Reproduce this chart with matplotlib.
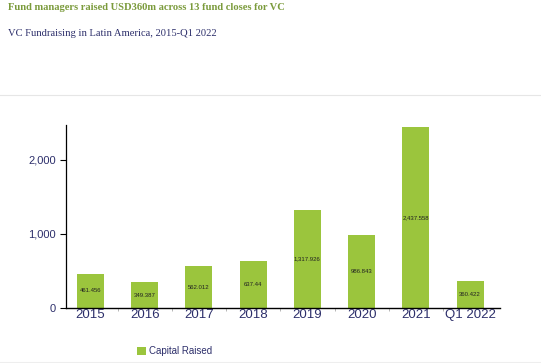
import matplotlib
matplotlib.use('Agg')
import matplotlib.pyplot as plt

categories = ['2015', '2016', '2017', '2018', '2019', '2020', '2021', 'Q1 2022']
capital_raised = [461.456, 349.387, 562.012, 637.44, 1317.926, 986.843, 2437.558, 360.422]
value_labels = ['461.456', '349.387', '562.012', '637.44', '1,317.926', '986.843', '2,437.558', '360.422']

green = '#9bc53d'
navy = '#2d2f6b'

fig = plt.figure(figsize=(5.41, 3.63), dpi=100)
fig.text(8/541, 1 - 8/363, 'Fund managers raised USD360m across 13 fund closes for VC',
         family='Liberation Serif', fontweight='bold', fontsize=7.6, color='#7b9b3c', va='center')
fig.text(8/541, 1 - 34/363, 'VC Fundraising in Latin America, 2015-Q1 2022',
         family='Liberation Serif', fontsize=7.6, color=navy, va='center')
fig.add_artist(plt.Line2D([0, 1], [1 - 95/363] * 2, color='#e6e6e6', lw=0.8))
fig.add_artist(plt.Line2D([0, 1], [1 - 362/363] * 2, color='#eeeeee', lw=0.8))

ax = fig.add_axes([66/541, 1 - 308/363, (500 - 66)/541, (308 - 125)/363])
x = range(len(categories))
bars = ax.bar(x, capital_raised, width=0.5, color=green, label='Capital Raised')
for xi, v, lab in zip(x, capital_raised, value_labels):
    ax.text(xi, v / 2, lab, ha='center', va='center', fontsize=4.3, color='#222222',
            family='Liberation Sans')

ax.set_xlim(-0.45, 7.55)
ax.set_ylim(0, 2470)
ax.set_yticks([0, 1000, 2000])
ax.set_yticklabels(['0', '1,000', '2,000'])
ax.set_xticks(list(x))
ax.set_xticklabels(categories)
ax.set_xticks([i + 0.5 for i in range(7)], minor=True)
ax.tick_params(axis='x', which='major', length=0, labelsize=9.5, labelcolor=navy, pad=1)
ax.tick_params(axis='x', which='minor', length=2, width=0.6, color='#aaaaaa')
ax.tick_params(axis='y', length=4, width=0.8, labelsize=8, labelcolor=navy)
for lab in ax.get_xticklabels() + ax.get_yticklabels():
    lab.set_family('Liberation Sans')
ax.spines['top'].set_visible(False)
ax.spines['right'].set_visible(False)
ax.spines['left'].set_linewidth(0.9)
ax.spines['bottom'].set_linewidth(1.0)

leg = fig.legend(handles=[bars], labels=['Capital Raised'], loc='center left',
                 bbox_to_anchor=(128/541, 1 - 351/363), frameon=False,
                 prop={'family': 'Liberation Sans', 'size': 7},
                 handlelength=0.9, handleheight=0.9, handletextpad=0.4)
for t in leg.get_texts():
    t.set_color(navy)

fig.savefig('out.png', dpi=100)
